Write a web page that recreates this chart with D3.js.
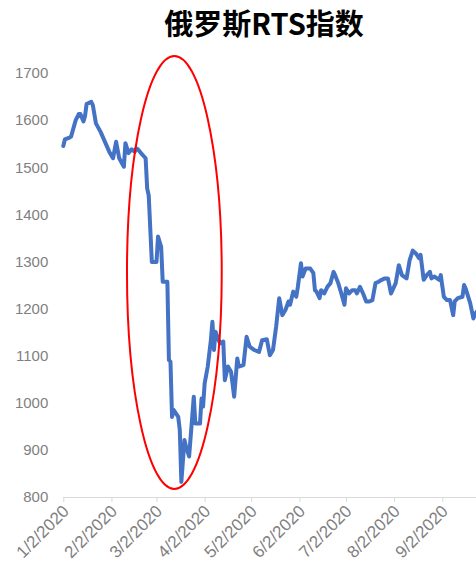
<!DOCTYPE html>
<html>
<head>
<meta charset="utf-8">
<script src="https://cdn.jsdelivr.net/npm/d3@7"></script>
<style>
  body { margin: 0; background: #fff; }
  svg { display: block; }
</style>
</head>
<body>
<div></div>
<script>
// values (approximate)
const dates = [
  '2020-01-02', '2020-01-03', '2020-01-06', '2020-01-07', '2020-01-10', '2020-01-12',
  '2020-01-13', '2020-01-15', '2020-01-16', '2020-01-17', '2020-01-20', '2020-01-21',
  '2020-01-23', '2020-01-26', '2020-02-01', '2020-02-03', '2020-02-05', '2020-02-07',
  '2020-02-10', '2020-02-11', '2020-02-13', '2020-02-15', '2020-02-17', '2020-02-18',
  '2020-02-19', '2020-02-21', '2020-02-24', '2020-02-25', '2020-02-26', '2020-02-28',
  '2020-03-02', '2020-03-03', '2020-03-05', '2020-03-06', '2020-03-09', '2020-03-10',
  '2020-03-11', '2020-03-12', '2020-03-13', '2020-03-16', '2020-03-17', '2020-03-18',
  '2020-03-20', '2020-03-21', '2020-03-23', '2020-03-25', '2020-03-26', '2020-03-27',
  '2020-03-30', '2020-03-31', '2020-04-01', '2020-04-02', '2020-04-04', '2020-04-06',
  '2020-04-07', '2020-04-08', '2020-04-09', '2020-04-11', '2020-04-12', '2020-04-14',
  '2020-04-15', '2020-04-17', '2020-04-19', '2020-04-21', '2020-04-23', '2020-04-24',
  '2020-04-27', '2020-04-29', '2020-05-01', '2020-05-04', '2020-05-07', '2020-05-09',
  '2020-05-12', '2020-05-14', '2020-05-16', '2020-05-18', '2020-05-20', '2020-05-22',
  '2020-05-24', '2020-05-26', '2020-05-27', '2020-05-29', '2020-05-31', '2020-06-01',
  '2020-06-03', '2020-06-04', '2020-06-06', '2020-06-09', '2020-06-11', '2020-06-12',
  '2020-06-13', '2020-06-15', '2020-06-16', '2020-06-18', '2020-06-20', '2020-06-22',
  '2020-06-24', '2020-06-25', '2020-06-27', '2020-06-29', '2020-07-01', '2020-07-02',
  '2020-07-04', '2020-07-06', '2020-07-08', '2020-07-09', '2020-07-11', '2020-07-13',
  '2020-07-15', '2020-07-17', '2020-07-19', '2020-07-21', '2020-07-23', '2020-07-25',
  '2020-07-27', '2020-07-29', '2020-07-31', '2020-08-03', '2020-08-05', '2020-08-07',
  '2020-08-10', '2020-08-12', '2020-08-14', '2020-08-16', '2020-08-18', '2020-08-19',
  '2020-08-21', '2020-08-23', '2020-08-25', '2020-08-26', '2020-08-28', '2020-08-31',
  '2020-09-01', '2020-09-03', '2020-09-05', '2020-09-07', '2020-09-09', '2020-09-10',
  '2020-09-12', '2020-09-15', '2020-09-16', '2020-09-17', '2020-09-20', '2020-09-22',
  '2020-09-24'
];

const values = [
  1545, 1559, 1563, 1565, 1600, 1613,
  1613, 1597, 1609, 1634, 1639, 1632,
  1593, 1575, 1530, 1519, 1554, 1519,
  1501, 1551, 1530, 1538, 1533, 1540,
  1538, 1530, 1519, 1455, 1440, 1299,
  1299, 1353, 1331, 1257, 1257, 1091,
  1087, 970, 985, 970, 942, 832,
  921, 907, 886, 970, 1013, 956,
  956, 1009, 992, 1041, 1077, 1133,
  1172, 1112, 1151, 1133, 1126, 1130,
  1048, 1077, 1066, 1013, 1094, 1077,
  1080, 1140, 1119, 1112, 1108, 1133,
  1135, 1101, 1112, 1161, 1222, 1186,
  1197, 1215, 1208, 1236, 1225, 1246,
  1296, 1268, 1285, 1285, 1275, 1239,
  1236, 1222, 1239, 1232, 1246, 1254,
  1278, 1271, 1254, 1232, 1208, 1243,
  1232, 1239, 1239, 1232, 1246, 1232,
  1215, 1215, 1218, 1254, 1257, 1261,
  1264, 1264, 1232, 1254, 1292, 1271,
  1264, 1303, 1323, 1317, 1307, 1314,
  1261, 1271, 1278, 1264, 1268, 1261,
  1271, 1225, 1218, 1218, 1186, 1215,
  1222, 1225, 1250, 1243, 1211, 1179,
  1193
];

const xTicks = ['2020-01-02', '2020-02-02', '2020-03-02', '2020-04-02', '2020-05-02',
  '2020-06-02', '2020-07-02', '2020-08-02', '2020-09-02'];
const yTicks = [800, 900, 1000, 1100, 1200, 1300, 1400, 1500, 1600, 1700];
const title = '俄罗斯RTS指数';

// highlighted crash period (ellipse annotation)
const ellipseFrom = '2020-02-12';
const ellipseTo = '2020-04-13';
const ellipseLow = 817;
const ellipseHigh = 1736;

const w = 476;
const h = 566;

const parse = d3.timeParse('%Y-%m-%d');
const data = dates.map((d, i) => ({ date: parse(d), value: values[i] }));

const xScale = d3
  .scaleTime()
  .domain([parse('2020-01-02'), parse('2020-09-02')])
  .range([63.3, 442.3]);

const yScale = d3.scaleLinear().domain([800, 1700]).range([497, 73]);

const svg = d3
  .select('body')
  .select('div')
  .append('svg')
  .attr('width', w)
  .attr('height', h);

svg
  .append('text')
  .attr('x', 264)
  .attr('y', 35)
  .attr('text-anchor', 'middle')
  .style('font-family', '"Noto Sans CJK SC", sans-serif')
  .style('font-weight', 'bold')
  .style('font-size', '29px')
  .style('fill', '#000')
  .text(title);

// y axis (labels only)
const yAxis = d3
  .axisLeft(yScale)
  .tickValues(yTicks)
  .tickSize(0)
  .tickPadding(15)
  .tickFormat(d3.format('d'));

const gy = svg.append('g').attr('transform', 'translate(63.3,0)').call(yAxis);
gy.select('.domain').remove();
gy.selectAll('text')
  .style('font-family', '"Liberation Sans", Arial, sans-serif')
  .style('font-size', '15px')
  .style('fill', '#7f7f7f');

// x axis
const xEnd = w;
const xAxis = d3
  .axisBottom(xScale)
  .tickValues(xTicks.map(parse))
  .tickSize(5)
  .tickSizeOuter(0)
  .tickPadding(2)
  .tickFormat(d3.timeFormat('%-m/%-d/%Y'));

const gx = svg.append('g').attr('transform', 'translate(0,497)').call(xAxis);
gx.select('.domain').attr('d', 'M63.3,0.5H' + xEnd).attr('stroke', '#d9d9d9');
gx.selectAll('.tick line').attr('stroke', '#d9d9d9');
gx.selectAll('text')
  .style('font-family', '"Liberation Sans", Arial, sans-serif')
  .style('font-size', '17px')
  .style('fill', '#7f7f7f')
  .attr('text-anchor', 'end')
  .attr('y', 0)
  .attr('dy', '0.35em')
  .attr('transform', 'translate(2,11) rotate(-45)');

// line
const line = d3
  .line()
  .x((d) => xScale(d.date))
  .y((d) => yScale(d.value));

svg
  .append('path')
  .datum(data)
  .attr('d', line)
  .attr('fill', 'none')
  .attr('stroke', '#4472c4')
  .attr('stroke-width', 4)
  .attr('stroke-linejoin', 'round')
  .attr('stroke-linecap', 'round');

// red ellipse
const ex0 = xScale(parse(ellipseFrom));
const ex1 = xScale(parse(ellipseTo));
const ey0 = yScale(ellipseHigh);
const ey1 = yScale(ellipseLow);
svg
  .append('ellipse')
  .attr('cx', (ex0 + ex1) / 2)
  .attr('cy', (ey0 + ey1) / 2)
  .attr('rx', (ex1 - ex0) / 2)
  .attr('ry', (ey1 - ey0) / 2)
  .attr('fill', 'none')
  .attr('stroke', '#ff0000')
  .attr('stroke-width', 2);
</script>
</body>
</html>
